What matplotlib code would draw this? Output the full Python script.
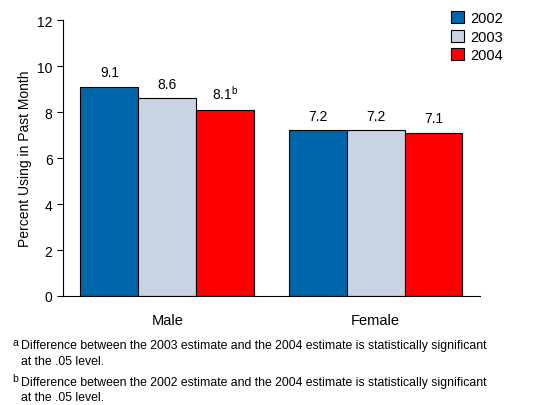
import matplotlib
matplotlib.use("Agg")
import matplotlib.pyplot as plt
import numpy as np

plt.rcParams['font.family'] = ['Liberation Sans', 'DejaVu Sans']

groups = ['Male', 'Female']
years = ['2002', '2003', '2004']
values = {
    '2002': [9.1, 7.2],
    '2003': [8.6, 7.2],
    '2004': [8.1, 7.1],
}
labels = {
    '2002': ['9.1', '7.2'],
    '2003': ['8.6', '7.2'],
    '2004': ['8.1$^{\\mathregular{b}}$', '7.1'],
}
colors = ['#0066aa', '#c9d3e3', '#ff0000']

fig = plt.figure(figsize=(5.49, 4.06), dpi=100)
ax = fig.add_axes([0.1148, 0.2685, 0.7592, 0.6795])

x = np.arange(len(groups))
w = 0.2775
for i, yr in enumerate(years):
    pos = x + (i - 1) * w
    ax.bar(pos, values[yr], w, color=colors[i], edgecolor='black', linewidth=0.8, label=yr)
    for p, v, t in zip(pos, values[yr], labels[yr]):
        ax.text(p, v + 0.33, t, ha='center', va='bottom', fontsize=10)

ax.set_xlim(-0.5, 1.5)
ax.set_ylim(0, 12)
ax.set_yticks(range(0, 13, 2))
ax.set_xticks(x)
ax.set_xticklabels(groups, fontsize=10.5)
ax.tick_params(axis='x', length=0, pad=12)
ax.tick_params(axis='y', labelsize=10, length=4)
ax.set_ylabel('Percent Using in Past Month', fontsize=10)
for s in ['top', 'right']:
    ax.spines[s].set_visible(False)

ax.legend(loc='upper left', bbox_to_anchor=(0.899, 1.08), frameon=False, fontsize=10.5,
          handlelength=0.9, handleheight=0.9, handletextpad=0.4, labelspacing=0.3)

notes = [
    ('a', 'Difference between the 2003 estimate and the 2004 estimate is statistically significant\nat the .05 level.', 0.162),
    ('b', 'Difference between the 2002 estimate and the 2004 estimate is statistically significant\nat the .05 level.', 0.072),
]
for sup, txt, yy in notes:
    fig.text(0.022, yy + 0.006, sup, fontsize=7.5, va='top')
    fig.text(0.038, yy, txt, fontsize=8.8, va='top', linespacing=1.4)

fig.savefig('out.png', dpi=100)
